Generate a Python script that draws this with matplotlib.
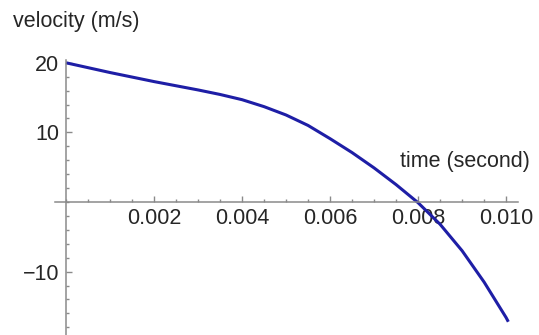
import matplotlib
matplotlib.use('Agg')
import matplotlib.pyplot as plt
from matplotlib.ticker import FixedLocator, MultipleLocator, FuncFormatter

# velocity, every 0.5 ms
t = [0, 0.0005, 0.001, 0.0015, 0.002, 0.0025, 0.003, 0.0035, 0.004, 0.0045,
     0.005, 0.0055, 0.006, 0.0065, 0.007, 0.0075, 0.008, 0.0085, 0.009, 0.0095, 0.010, 0.01005]
v = [20.0, 19.3, 18.6, 17.95, 17.3, 16.7, 16.1, 15.45, 14.7, 13.7,
     12.5, 11.0, 9.1, 7.1, 4.9, 2.5, -0.1, -3.2, -7.0, -11.5, -16.6, -17.2]

xticks = [0.002, 0.004, 0.006, 0.008, 0.010]
yticks = [-10, 10, 20]

plt.rcParams['font.family'] = ['Liberation Sans', 'DejaVu Sans']

fig = plt.figure(figsize=(5.39, 3.35), dpi=100)
ax = fig.add_axes([55 / 539, 0, (518 - 55) / 539, 1 - 60 / 335])

ax.plot(t, v, color='#1e1ea6', linewidth=2.2, solid_capstyle='butt')

ax.set_xlim(-0.00025, 0.01027)
ax.set_ylim(-19.1, 20.4)

for s in ['top', 'right']:
    ax.spines[s].set_visible(False)
for s in ['left', 'bottom']:
    ax.spines[s].set_position(('data', 0))
    ax.spines[s].set_color('#8a8a8a')
    ax.spines[s].set_linewidth(1.1)

ax.xaxis.set_major_locator(FixedLocator(xticks))
ax.xaxis.set_minor_locator(MultipleLocator(0.0005))
ax.yaxis.set_major_locator(FixedLocator(yticks))
ax.yaxis.set_minor_locator(MultipleLocator(2))
ax.xaxis.set_major_formatter(FuncFormatter(lambda x, p: f'{x:.3f}'))
ax.yaxis.set_major_formatter(FuncFormatter(lambda y, p: f'{y:g}'.replace('-', '\u2212')))

ax.tick_params(which='both', direction='in', color='#8a8a8a', width=1.0,
               labelsize=15.5, labelcolor='#262626')
ax.tick_params(which='major', length=4.5)
ax.tick_params(which='minor', length=2.5)
ax.tick_params(axis='x', pad=4)
ax.tick_params(axis='y', pad=5)

fig.text(13 / 539, 1 - 22 / 335, 'velocity (m/s)', fontsize=15.5, color='#262626',
         ha='left', va='center')
fig.text(530 / 539, 1 - 162 / 335, 'time (second)', fontsize=15.5, color='#262626',
         ha='right', va='center')

fig.savefig('out.png', dpi=100)
